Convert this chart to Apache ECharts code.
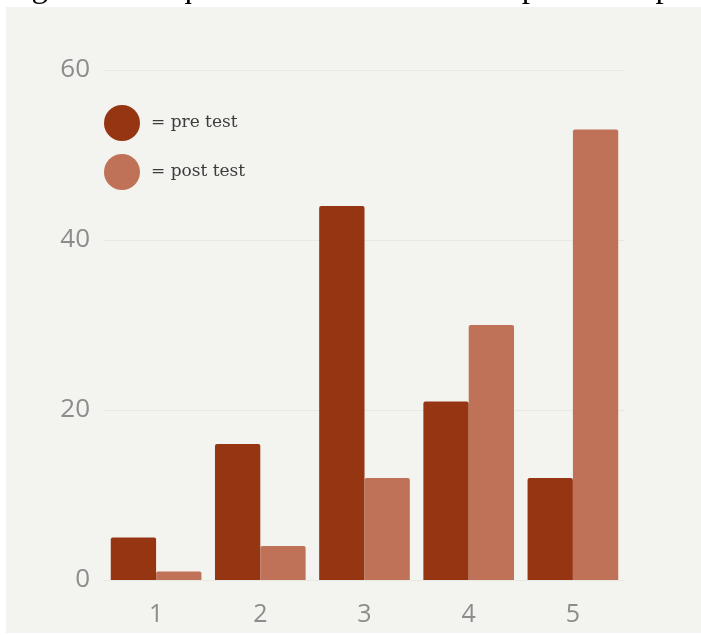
<!DOCTYPE html>
<html>
<head>
<meta charset="utf-8">
<script src="https://cdn.jsdelivr.net/npm/echarts@6/dist/echarts.min.js"></script>
<style>
html,body{margin:0;padding:0;background:#ffffff;}
#chart{width:701px;height:635px;}
</style>
</head>
<body>
<div id="chart"></div>
<script>
const categories = ['1', '2', '3', '4', '5'];
const preTest = [5, 16, 44, 21, 12];
const postTest = [1, 4, 12, 30, 53];
const seriesNames = ['pre test', 'post test'];
const yTicks = { min: 0, max: 60, interval: 20 };
const captionText = 'Figure 1. Frequencies of the overall responses of pre';

const chart = echarts.init(document.getElementById('chart'), null, { renderer: 'canvas' });

chart.setOption({
  backgroundColor: '#ffffff',
  animation: false,
  graphic: [
    {
      type: 'text',
      x: 4,
      y: -12,
      z: -2,
      silent: true,
      style: {
        text: captionText,
        font: '33px "Liberation Serif", serif',
        fill: '#000000',
        verticalAlign: 'middle'
      }
    },
    {
      type: 'rect',
      x: 6,
      y: 7,
      z: -1,
      silent: true,
      shape: { width: 695, height: 626 },
      style: { fill: '#f3f3ef' }
    }
  ],
  legend: {
    orient: 'vertical',
    left: 99,
    top: 100,
    itemWidth: 36,
    itemHeight: 36,
    itemGap: 13,
    icon: 'circle',
    formatter: '= {name}',
    textStyle: {
      fontFamily: '"DejaVu Serif", serif',
      fontSize: 17,
      color: '#3c3c3c',
      padding: [0, 0, 0, 6]
    },
    data: seriesNames
  },
  grid: {
    left: 104,
    right: 76,
    top: 70,
    bottom: 55,
    containLabel: false
  },
  xAxis: {
    type: 'category',
    data: categories,
    axisLine: { show: false },
    axisTick: { show: false },
    axisLabel: {
      fontFamily: '"Open Sans", sans-serif',
      fontSize: 25,
      color: '#8c8c8c',
      margin: 22
    }
  },
  yAxis: {
    type: 'value',
    min: yTicks.min,
    max: yTicks.max,
    interval: yTicks.interval,
    axisLine: { show: false },
    axisTick: { show: false },
    axisLabel: {
      fontFamily: '"Open Sans", sans-serif',
      fontSize: 26,
      color: '#8c8c8c',
      margin: 14
    },
    splitLine: { lineStyle: { color: '#e8e8e2', width: 1 } }
  },
  series: [
    {
      name: seriesNames[0],
      type: 'bar',
      data: preTest,
      barGap: '0%',
      barCategoryGap: '13%',
      itemStyle: { color: '#963512', borderRadius: [2, 2, 0, 0] }
    },
    {
      name: seriesNames[1],
      type: 'bar',
      data: postTest,
      barGap: '0%',
      barCategoryGap: '13%',
      itemStyle: { color: '#bf7257', borderRadius: [2, 2, 0, 0] }
    }
  ]
});
</script>
</body>
</html>
